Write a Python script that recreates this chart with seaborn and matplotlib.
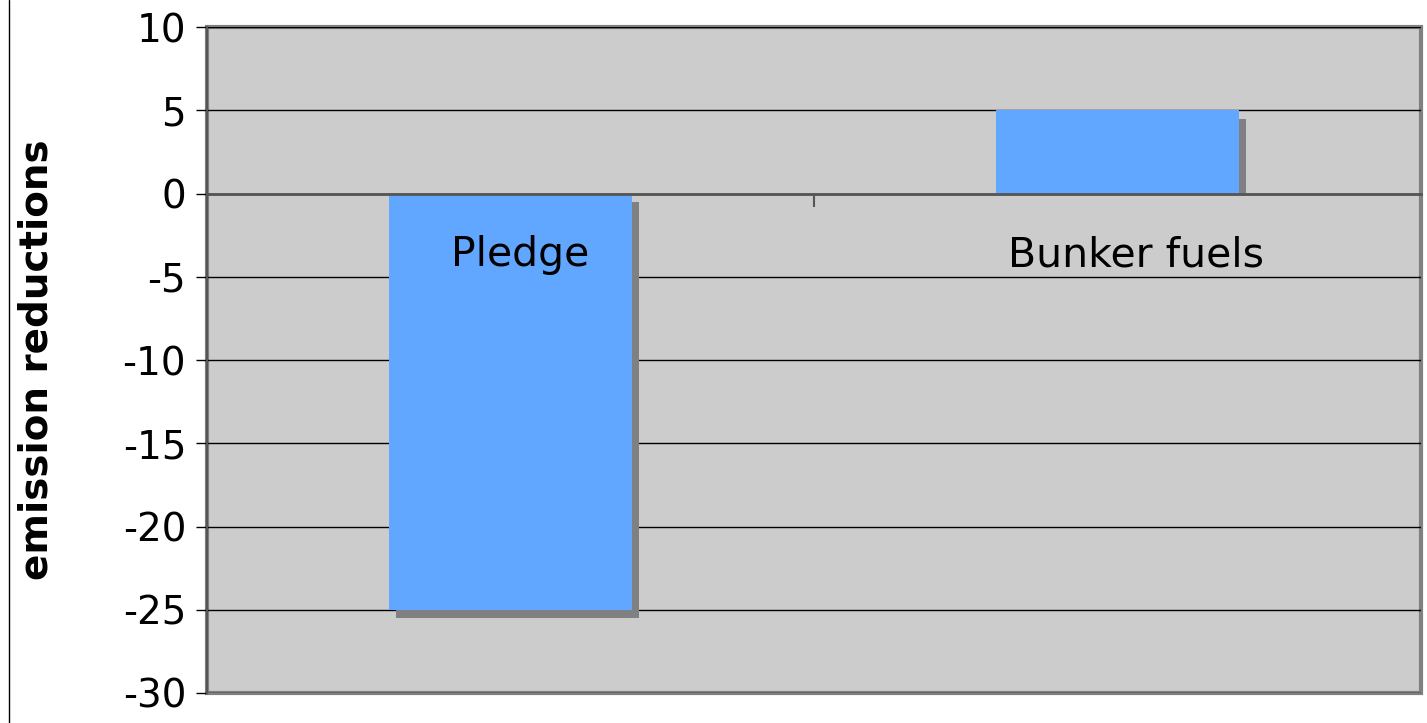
import matplotlib
matplotlib.use("Agg")
import matplotlib.pyplot as plt
import seaborn as sns
from matplotlib.lines import Line2D
from matplotlib.transforms import ScaledTranslation, TransformedBbox, Bbox

categories = ["Pledge", "Bunker fuels"]
values = [-25, 5]
y_ticks = [-30, -25, -20, -15, -10, -5, 0, 5, 10]

BAR = "#62a7ff"
SHADOW = "#808080"
PANEL = "#cccccc"

sns.set_style("white")
plt.rcParams["font.family"] = ["DejaVu Sans"]

fig = plt.figure(figsize=(14.27, 7.23), dpi=100)
ax = fig.add_axes([207 / 1427, 1 - 693 / 723, (1421 - 207) / 1427, (693 - 27) / 723])
ax.set_facecolor(PANEL)

# drop shadows: same bars, nudged right and down
sns.barplot(x=categories, y=values, color=SHADOW, saturation=1, width=0.4, ax=ax)
shadow_patches = list(ax.patches)
offset = ScaledTranslation(7 / 100, -8.5 / 100, fig.dpi_scale_trans)
for p, v in zip(shadow_patches, values):
    p.set_transform(ax.transData + offset)
    p.set_linewidth(0)
    if v > 0:
        p.set_clip_box(TransformedBbox(Bbox([[-0.5, 0], [1.5, 10]]), ax.transData))

sns.barplot(x=categories, y=values, color=BAR, saturation=1, width=0.4, ax=ax)
for p in ax.patches[len(shadow_patches):]:
    p.set_linewidth(0)

ax.set_xlim(-0.5, 1.5)
ax.set_ylim(-30, 10)
ax.set_yticks(y_ticks)
ax.set_yticklabels([str(t) for t in y_ticks])

# grid under the bars, category names above them
ax.set_axisbelow(True)
ax.yaxis.grid(True, color="black", linewidth=1)
ax.xaxis.grid(False)
ax.xaxis.set_zorder(3)

# frame of the plot area
ax.patch.set_edgecolor(SHADOW)
ax.patch.set_linewidth(3)
for side in ("top", "right"):
    ax.spines[side].set_visible(False)
ax.spines["left"].set_color("#555555")
ax.spines["left"].set_linewidth(1.5)
ax.spines["bottom"].set_position(("data", 0))
ax.spines["bottom"].set_color("#555555")
ax.spines["bottom"].set_linewidth(2)
ax.spines["bottom"].set_zorder(3)

# category names sit under the zero line; one divider tick between them
ax.set_xticks([0, 1])
ax.set_xticklabels(categories)
ax.set_xticks([0.5], minor=True)
ax.tick_params(axis="x", which="major", length=0, pad=30, labelsize=29.5, labelcolor="black")
ax.tick_params(axis="x", which="minor", bottom=True, direction="out", length=9.5,
               width=1.5, color="#555555")
ax.tick_params(axis="y", left=True, direction="out", length=8, width=1, color="black",
               pad=7, labelsize=28, labelcolor="black")
for lab, dx in zip(ax.get_xticklabels(), [10, 19]):
    lab.set_transform(lab.get_transform() + ScaledTranslation(dx / 100, 0, fig.dpi_scale_trans))

ax.set_xlabel("")
ax.set_ylabel("emission reductions", fontsize=28, fontweight="bold", color="black")
ax.yaxis.set_label_coords((55 - 207) / 1214, 0.5)

fig.add_artist(Line2D([8.5 / 1427, 8.5 / 1427], [0, 1], transform=fig.transFigure,
                      color="black", linewidth=1))

fig.savefig("out.png", dpi=100)
